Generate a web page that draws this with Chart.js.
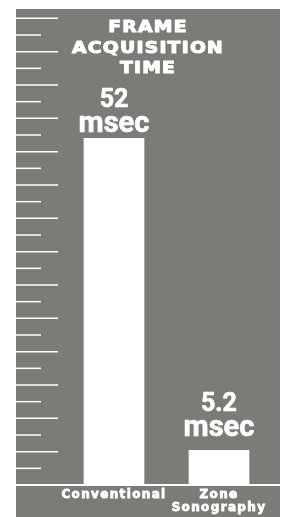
<!DOCTYPE html>
<html><head><meta charset="utf-8">
<script src="https://cdn.jsdelivr.net/npm/chart.js@4/dist/chart.umd.min.js"></script>
<style>html,body{margin:0;padding:0;background:#fff;overflow:hidden}canvas{display:block}</style>
</head><body>
<canvas id="c" width="288" height="517"></canvas>
<script>
const categories = ['Conventional', 'Zone Sonography'];
const frameTimes = [52, 5.2];
const unitLabel = 'msec';
const titleLines = ['FRAME', 'ACQUISITION', 'TIME'];
const tickValues = [2.5, 5, 7.5, 10, 12.5, 15, 17.5, 20, 22.5, 25, 27.5, 30, 32.5, 35, 37.5, 40, 42.5, 45, 47.5, 50, 52.5, 55, 57.5, 60, 62.5, 65, 67.5, 70];
const majorTickValues = [5, 10, 15, 20, 25, 30, 35, 40, 45, 50, 55, 60, 65, 70];

const PANEL = '#7b7c78';
const LABEL_SPACING = '1.35px';

const panelPlugin = {
  id: 'panel',
  beforeLayout(chart) { chart.ctx.letterSpacing = LABEL_SPACING; },
  beforeDraw(chart) {
    const { ctx, chartArea: a, width, height } = chart;
    ctx.save();
    ctx.letterSpacing = '0px';
    ctx.fillStyle = '#ffffff';
    ctx.fillRect(0, 0, width, height);
    ctx.fillStyle = PANEL;
    ctx.fillRect(a.left, a.top, a.right - a.left, height - a.top);
    const y = chart.scales.y;
    ctx.strokeStyle = '#ffffff';
    ctx.lineWidth = 1.5;
    tickValues.forEach(v => {
      const py = y.getPixelForValue(v);
      const len = majorTickValues.includes(v) ? 42 : 25;
      ctx.beginPath();
      ctx.moveTo(a.left, py);
      ctx.lineTo(a.left + len, py);
      ctx.stroke();
    });
    ctx.restore();
    ctx.letterSpacing = LABEL_SPACING;
  },
  afterDraw(chart) {
    const { ctx, chartArea: a } = chart;
    ctx.save();
    ctx.fillStyle = '#ffffff';
    ctx.strokeStyle = '#ffffff';
    ctx.lineJoin = 'round';
    ctx.textAlign = 'center';
    ctx.textBaseline = 'alphabetic';
    // value labels
    ctx.letterSpacing = '0px';
    ctx.lineWidth = 0.6;
    const gaps = [6, 14];
    chart.getDatasetMeta(0).data.forEach((bar, i) => {
      const g = gaps[i];
      ctx.font = 'bold 29px Roboto';
      ctx.fillText(unitLabel, bar.x, bar.y - g);
      ctx.strokeText(unitLabel, bar.x, bar.y - g);
      ctx.font = 'bold 25px Roboto';
      ctx.fillText(String(frameTimes[i]), bar.x, bar.y - g - 25);
      ctx.strokeText(String(frameTimes[i]), bar.x, bar.y - g - 25);
    });
    // title
    const cx = (a.left + a.right) / 2;
    ctx.font = 'bold 15px "DejaVu Sans"';
    ctx.letterSpacing = '1px';
    ctx.lineWidth = 1;
    titleLines.forEach((line, i) => {
      ctx.save();
      ctx.translate(cx, a.top + 23 + i * 20.5);
      ctx.scale(1.25, 1);
      ctx.fillText(line, 0, 0);
      ctx.strokeText(line, 0, 0);
      ctx.restore();
    });
    ctx.restore();
  }
};

new Chart(document.getElementById('c'), {
  type: 'bar',
  data: {
    datasets: [{
      data: frameTimes.map((v, i) => ({ x: i + 1, y: v })),
      backgroundColor: '#ffffff',
      borderWidth: 0,
      barThickness: 60
    }]
  },
  options: {
    responsive: false,
    devicePixelRatio: 1,
    animation: false,
    layout: { padding: { left: 16, right: 8, top: 9, bottom: 0 } },
    plugins: { legend: { display: false }, tooltip: { enabled: false }, title: { display: false } },
    scales: {
      x: {
        type: 'linear',
        min: 0.0667,
        max: 2.581,
        offset: false,
        grid: { display: false, drawTicks: false },
        border: { display: true, color: '#ffffff', width: 2 },
        afterBuildTicks: s => { s.ticks = categories.map((c, i) => ({ value: i + 1 })); },
        afterFit: s => { s.height = 32; },
        ticks: {
          color: '#ffffff',
          textStrokeColor: '#ffffff',
          textStrokeWidth: 0.8,
          font: { family: '"DejaVu Sans"', weight: 'bold', size: 12, lineHeight: 1.05 },
          padding: 4,
          maxRotation: 0,
          minRotation: 0,
          autoSkip: false,
          callback: v => categories[v - 1] ? categories[v - 1].split(' ') : ''
        }
      },
      y: {
        display: false,
        min: 0,
        max: 71.4
      }
    }
  },
  plugins: [panelPlugin]
});
</script>
</body></html>
